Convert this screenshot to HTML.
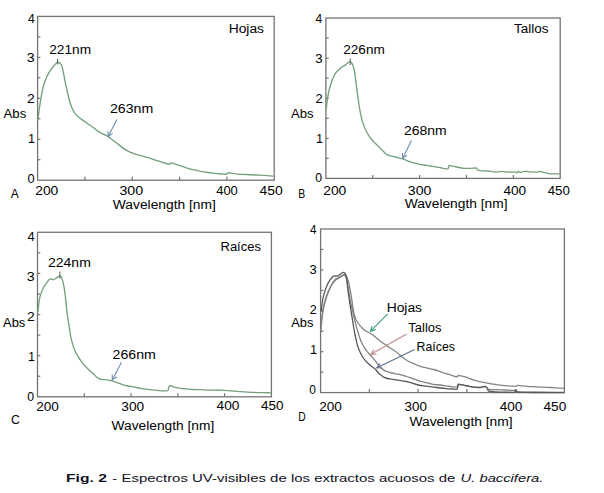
<!DOCTYPE html>
<html><head><meta charset="utf-8"><style>
html,body{margin:0;padding:0;background:#fff;}
body{width:604px;height:493px;overflow:hidden;}
svg{display:block;font-family:"Liberation Sans", sans-serif;}
</style></head><body>
<svg width="604" height="493" viewBox="0 0 604 493">
<rect x="0" y="0" width="604" height="493" fill="#fff"/>
<rect x="37.60" y="16.40" width="236.60" height="163.80" fill="none" stroke="#747474" stroke-width="1.3"/>
<line x1="37.60" y1="159.72" x2="40.40" y2="159.72" stroke="#747474" stroke-width="1.2"/>
<line x1="37.60" y1="139.25" x2="40.40" y2="139.25" stroke="#747474" stroke-width="1.2"/>
<line x1="37.60" y1="118.77" x2="40.40" y2="118.77" stroke="#747474" stroke-width="1.2"/>
<line x1="37.60" y1="98.30" x2="40.40" y2="98.30" stroke="#747474" stroke-width="1.2"/>
<line x1="37.60" y1="77.83" x2="40.40" y2="77.83" stroke="#747474" stroke-width="1.2"/>
<line x1="37.60" y1="57.35" x2="40.40" y2="57.35" stroke="#747474" stroke-width="1.2"/>
<line x1="37.60" y1="36.88" x2="40.40" y2="36.88" stroke="#747474" stroke-width="1.2"/>
<line x1="84.92" y1="180.20" x2="84.92" y2="176.70" stroke="#747474" stroke-width="1.2"/>
<line x1="132.24" y1="180.20" x2="132.24" y2="176.70" stroke="#747474" stroke-width="1.2"/>
<line x1="179.56" y1="180.20" x2="179.56" y2="176.70" stroke="#747474" stroke-width="1.2"/>
<line x1="226.88" y1="180.20" x2="226.88" y2="176.70" stroke="#747474" stroke-width="1.2"/>
<rect x="325.90" y="18.00" width="234.30" height="160.40" fill="none" stroke="#747474" stroke-width="1.3"/>
<line x1="325.90" y1="158.35" x2="328.70" y2="158.35" stroke="#747474" stroke-width="1.2"/>
<line x1="325.90" y1="138.30" x2="328.70" y2="138.30" stroke="#747474" stroke-width="1.2"/>
<line x1="325.90" y1="118.25" x2="328.70" y2="118.25" stroke="#747474" stroke-width="1.2"/>
<line x1="325.90" y1="98.20" x2="328.70" y2="98.20" stroke="#747474" stroke-width="1.2"/>
<line x1="325.90" y1="78.15" x2="328.70" y2="78.15" stroke="#747474" stroke-width="1.2"/>
<line x1="325.90" y1="58.10" x2="328.70" y2="58.10" stroke="#747474" stroke-width="1.2"/>
<line x1="325.90" y1="38.05" x2="328.70" y2="38.05" stroke="#747474" stroke-width="1.2"/>
<line x1="372.76" y1="178.40" x2="372.76" y2="174.90" stroke="#747474" stroke-width="1.2"/>
<line x1="419.62" y1="178.40" x2="419.62" y2="174.90" stroke="#747474" stroke-width="1.2"/>
<line x1="466.48" y1="178.40" x2="466.48" y2="174.90" stroke="#747474" stroke-width="1.2"/>
<line x1="513.34" y1="178.40" x2="513.34" y2="174.90" stroke="#747474" stroke-width="1.2"/>
<rect x="37.50" y="232.30" width="233.90" height="164.50" fill="none" stroke="#747474" stroke-width="1.3"/>
<line x1="37.50" y1="376.24" x2="40.30" y2="376.24" stroke="#747474" stroke-width="1.2"/>
<line x1="37.50" y1="355.68" x2="40.30" y2="355.68" stroke="#747474" stroke-width="1.2"/>
<line x1="37.50" y1="335.11" x2="40.30" y2="335.11" stroke="#747474" stroke-width="1.2"/>
<line x1="37.50" y1="314.55" x2="40.30" y2="314.55" stroke="#747474" stroke-width="1.2"/>
<line x1="37.50" y1="293.99" x2="40.30" y2="293.99" stroke="#747474" stroke-width="1.2"/>
<line x1="37.50" y1="273.43" x2="40.30" y2="273.43" stroke="#747474" stroke-width="1.2"/>
<line x1="37.50" y1="252.86" x2="40.30" y2="252.86" stroke="#747474" stroke-width="1.2"/>
<line x1="84.28" y1="396.80" x2="84.28" y2="393.30" stroke="#747474" stroke-width="1.2"/>
<line x1="131.06" y1="396.80" x2="131.06" y2="393.30" stroke="#747474" stroke-width="1.2"/>
<line x1="177.84" y1="396.80" x2="177.84" y2="393.30" stroke="#747474" stroke-width="1.2"/>
<line x1="224.62" y1="396.80" x2="224.62" y2="393.30" stroke="#747474" stroke-width="1.2"/>
<rect x="320.60" y="229.00" width="243.80" height="163.60" fill="none" stroke="#747474" stroke-width="1.3"/>
<line x1="320.60" y1="372.15" x2="323.40" y2="372.15" stroke="#747474" stroke-width="1.2"/>
<line x1="320.60" y1="351.70" x2="323.40" y2="351.70" stroke="#747474" stroke-width="1.2"/>
<line x1="320.60" y1="331.25" x2="323.40" y2="331.25" stroke="#747474" stroke-width="1.2"/>
<line x1="320.60" y1="310.80" x2="323.40" y2="310.80" stroke="#747474" stroke-width="1.2"/>
<line x1="320.60" y1="290.35" x2="323.40" y2="290.35" stroke="#747474" stroke-width="1.2"/>
<line x1="320.60" y1="269.90" x2="323.40" y2="269.90" stroke="#747474" stroke-width="1.2"/>
<line x1="320.60" y1="249.45" x2="323.40" y2="249.45" stroke="#747474" stroke-width="1.2"/>
<line x1="369.36" y1="392.60" x2="369.36" y2="389.10" stroke="#747474" stroke-width="1.2"/>
<line x1="418.12" y1="392.60" x2="418.12" y2="389.10" stroke="#747474" stroke-width="1.2"/>
<line x1="466.88" y1="392.60" x2="466.88" y2="389.10" stroke="#747474" stroke-width="1.2"/>
<line x1="515.64" y1="392.60" x2="515.64" y2="389.10" stroke="#747474" stroke-width="1.2"/>
<path d="M37.90,118.50 C38.03,117.83 38.17,117.28 38.30,116.50 C38.53,115.13 38.77,113.00 39.00,111.30 C39.33,108.88 39.67,106.46 40.00,104.20 C40.37,101.72 40.73,99.19 41.10,97.10 C41.60,94.24 42.10,91.65 42.60,89.50 C43.23,86.78 43.87,84.40 44.50,82.50 C45.20,80.40 45.90,78.73 46.60,77.20 C47.40,75.45 48.20,73.94 49.00,72.60 C49.83,71.21 50.67,70.02 51.50,68.90 C52.33,67.78 53.17,66.79 54.00,65.80 C54.67,65.01 55.33,64.13 56.00,63.50 C56.53,63.00 57.07,62.20 57.60,62.20 C58.33,62.20 59.07,62.51 59.80,62.90 C60.40,63.22 61.00,64.17 61.60,65.40 C62.00,66.22 62.40,67.94 62.80,69.60 C63.20,71.26 63.60,73.67 64.00,75.70 C64.40,77.73 64.80,79.80 65.20,81.80 C65.63,83.97 66.07,86.21 66.50,88.20 C67.07,90.81 67.63,93.18 68.20,95.50 C68.67,97.41 69.13,99.40 69.60,101.00 C70.20,103.05 70.80,104.86 71.40,106.40 C72.17,108.37 72.93,110.21 73.70,111.50 C74.60,113.01 75.50,114.15 76.40,115.10 C77.63,116.41 78.87,117.35 80.10,118.30 C81.63,119.49 83.17,120.42 84.70,121.50 C86.20,122.55 87.70,123.65 89.20,124.70 C90.73,125.78 92.27,126.76 93.80,127.90 C95.27,128.99 96.73,130.41 98.20,131.40 C99.27,132.12 100.33,132.78 101.40,133.30 C102.60,133.89 103.80,134.22 105.00,134.80 C106.07,135.31 107.13,135.92 108.20,136.60 C109.57,137.48 110.93,138.65 112.30,139.70 C113.83,140.88 115.37,142.09 116.90,143.30 C118.40,144.49 119.90,145.79 121.40,146.90 C122.60,147.79 123.80,148.64 125.00,149.40 C126.63,150.43 128.27,151.50 129.90,152.20 C131.57,152.91 133.23,153.37 134.90,153.90 C136.57,154.43 138.23,154.89 139.90,155.40 C141.53,155.89 143.17,156.46 144.80,156.90 C146.47,157.35 148.13,157.62 149.80,158.10 C151.47,158.58 153.13,159.35 154.80,159.90 C156.43,160.44 158.07,160.89 159.70,161.40 C161.37,161.92 163.03,162.52 164.70,163.00 C166.37,163.48 168.03,164.30 169.70,164.30 C170.00,164.30 170.30,162.80 170.60,162.80 C171.93,162.80 173.27,163.42 174.60,163.80 C176.40,164.31 178.20,164.97 180.00,165.60 C181.00,165.95 182.00,166.35 183.00,166.70 C184.63,167.27 186.27,167.83 187.90,168.30 C189.57,168.78 191.23,169.22 192.90,169.60 C194.57,169.98 196.23,170.25 197.90,170.60 C199.53,170.95 201.17,171.39 202.80,171.70 C204.47,172.01 206.13,172.27 207.80,172.50 C209.47,172.73 211.13,172.92 212.80,173.10 C214.43,173.28 216.07,173.44 217.70,173.60 C219.37,173.77 221.03,174.03 222.70,174.10 C224.03,174.15 225.37,174.20 226.70,174.20 C227.23,174.20 227.77,172.60 228.30,172.60 C229.83,172.60 231.37,173.15 232.90,173.40 C234.40,173.65 235.90,173.99 237.40,174.10 C240.37,174.32 243.33,174.35 246.30,174.50 C249.30,174.65 252.30,174.85 255.30,175.00 C258.27,175.15 261.23,175.23 264.20,175.40 C267.27,175.57 270.33,175.87 273.40,176.10" fill="none" stroke="#74a07d" stroke-width="1.35" stroke-linejoin="round"/>
<path d="M326.20,109.70 C326.47,107.23 326.73,104.37 327.00,102.30 C327.43,98.93 327.87,96.00 328.30,93.80 C328.90,90.76 329.50,88.60 330.10,86.50 C330.90,83.70 331.70,81.13 332.50,79.20 C333.53,76.71 334.57,74.50 335.60,73.10 C336.60,71.75 337.60,71.00 338.60,70.00 C339.63,68.97 340.67,67.67 341.70,67.00 C342.50,66.48 343.30,66.28 344.10,65.80 C344.93,65.30 345.77,64.59 346.60,63.90 C347.20,63.41 347.80,62.66 348.40,62.30 C348.90,62.00 349.40,61.60 349.90,61.60 C350.40,61.60 350.90,62.04 351.40,62.50 C351.80,62.86 352.20,63.68 352.60,64.60 C353.20,65.98 353.80,68.12 354.40,71.00 C354.83,73.08 355.27,76.91 355.70,80.10 C356.17,83.54 356.63,87.47 357.10,91.00 C357.60,94.78 358.10,98.67 358.60,102.00 C359.20,105.99 359.80,109.91 360.40,112.90 C361.13,116.55 361.87,119.78 362.60,122.10 C363.83,126.01 365.07,128.77 366.30,131.20 C367.80,134.15 369.30,136.56 370.80,138.50 C371.87,139.88 372.93,140.90 374.00,142.00 C375.33,143.38 376.67,144.57 378.00,145.90 C379.30,147.20 380.60,148.58 381.90,149.90 C382.90,150.91 383.90,152.01 384.90,152.90 C385.73,153.64 386.57,154.53 387.40,154.90 C388.90,155.57 390.40,155.79 391.90,156.20 C393.87,156.73 395.83,157.21 397.80,157.70 C399.47,158.11 401.13,158.40 402.80,158.90 C404.80,159.50 406.80,160.63 408.80,161.30 C411.10,162.08 413.40,162.73 415.70,163.30 C418.37,163.96 421.03,164.52 423.70,165.00 C425.80,165.38 427.90,165.67 430.00,166.00 C431.93,166.30 433.87,166.57 435.80,166.90 C437.73,167.23 439.67,167.69 441.60,168.00 C443.73,168.35 445.87,168.90 448.00,168.90 C448.37,168.90 448.73,165.40 449.10,165.40 C450.47,165.40 451.83,165.92 453.20,166.20 C455.13,166.60 457.07,167.17 459.00,167.50 C460.93,167.83 462.87,168.30 464.80,168.30 C466.73,168.30 468.67,168.30 470.60,168.30 C472.50,168.30 474.40,168.00 476.30,168.00 C476.90,168.00 477.50,170.27 478.10,170.40 C479.83,170.76 481.57,170.80 483.30,170.90 C485.63,171.04 487.97,171.03 490.30,171.20 C491.83,171.31 493.37,172.10 494.90,172.10 C496.07,172.10 497.23,172.00 498.40,171.90 C499.53,171.80 500.67,171.30 501.80,171.30 C502.90,171.30 504.00,171.84 505.10,171.90 C507.37,172.03 509.63,172.10 511.90,172.10 C513.03,172.10 514.17,172.10 515.30,172.10 C515.87,172.10 516.43,172.60 517.00,172.60 C517.53,172.60 518.07,171.30 518.60,171.30 C519.37,171.30 520.13,172.60 520.90,172.60 C521.67,172.60 522.43,171.30 523.20,171.30 C524.30,171.30 525.40,171.42 526.50,171.50 C528.00,171.61 529.50,171.83 531.00,171.90 C533.27,172.00 535.53,172.10 537.80,172.10 C538.53,172.10 539.27,171.30 540.00,171.30 C541.50,171.30 543.00,172.27 544.50,172.60 C546.77,173.10 549.03,173.70 551.30,173.80 C554.07,173.92 556.83,173.93 559.60,174.00" fill="none" stroke="#74a07d" stroke-width="1.35" stroke-linejoin="round"/>
<path d="M37.80,312.50 C38.03,310.50 38.27,308.36 38.50,306.50 C38.87,303.58 39.23,300.12 39.60,298.40 C40.10,296.06 40.60,294.85 41.10,293.40 C41.77,291.46 42.43,289.59 43.10,288.30 C43.77,287.01 44.43,286.19 45.10,285.20 C45.80,284.16 46.50,283.12 47.20,282.20 C48.03,281.11 48.87,279.39 49.70,279.20 C50.20,279.09 50.70,279.00 51.20,279.00 C51.90,279.00 52.60,279.70 53.30,279.70 C53.97,279.70 54.63,278.98 55.30,278.60 C56.13,278.12 56.97,277.64 57.80,277.10 C58.47,276.67 59.13,275.70 59.80,275.70 C60.33,275.70 60.87,276.37 61.40,277.10 C61.80,277.65 62.20,279.12 62.60,280.50 C63.03,282.00 63.47,284.00 63.90,286.30 C64.27,288.24 64.63,290.57 65.00,293.40 C65.30,295.72 65.60,299.11 65.90,301.90 C66.30,305.62 66.70,309.77 67.10,312.90 C67.73,317.85 68.37,321.56 69.00,325.60 C69.70,330.07 70.40,335.32 71.10,338.40 C72.20,343.25 73.30,346.66 74.40,349.40 C75.63,352.47 76.87,354.65 78.10,356.70 C79.60,359.19 81.10,361.24 82.60,363.10 C83.90,364.71 85.20,366.04 86.50,367.40 C87.33,368.27 88.17,369.10 89.00,369.90 C90.63,371.47 92.27,372.92 93.90,374.40 C95.40,375.75 96.90,377.76 98.40,378.40 C99.57,378.89 100.73,379.22 101.90,379.40 C103.53,379.65 105.17,379.68 106.80,379.90 C108.47,380.12 110.13,380.51 111.80,380.90 C113.47,381.29 115.13,381.75 116.80,382.30 C118.43,382.84 120.07,383.75 121.70,384.30 C123.70,384.97 125.70,385.58 127.70,386.00 C130.33,386.55 132.97,386.79 135.60,387.30 C137.07,387.58 138.53,388.05 140.00,388.30 C141.93,388.64 143.87,388.85 145.80,389.10 C147.73,389.35 149.67,389.58 151.60,389.80 C153.53,390.02 155.47,390.22 157.40,390.40 C159.33,390.58 161.27,390.90 163.20,390.90 C164.77,390.90 166.33,390.87 167.90,390.70 C168.27,390.66 168.63,387.09 169.00,386.60 C169.37,386.11 169.73,385.70 170.10,385.70 C171.67,385.70 173.23,386.82 174.80,387.20 C176.73,387.66 178.67,388.04 180.60,388.30 C182.50,388.56 184.40,388.70 186.30,388.90 C188.23,389.10 190.17,389.46 192.10,389.50 C194.83,389.56 197.57,389.55 200.30,389.60 C203.53,389.66 206.77,390.10 210.00,390.10 C212.20,390.10 214.40,390.00 216.60,390.00 C220.47,390.00 224.33,390.44 228.20,390.70 C232.07,390.96 235.93,391.34 239.80,391.60 C243.67,391.86 247.53,392.13 251.40,392.30 C255.23,392.47 259.07,392.63 262.90,392.70 C265.50,392.75 268.10,392.77 270.70,392.80" fill="none" stroke="#74a07d" stroke-width="1.35" stroke-linejoin="round"/>
<line x1="57.60" y1="58.80" x2="57.60" y2="64.50" stroke="#5f6f62" stroke-width="1.1"/>
<line x1="350.30" y1="58.50" x2="350.30" y2="65.00" stroke="#5f6f62" stroke-width="1.1"/>
<line x1="59.90" y1="271.40" x2="59.90" y2="278.80" stroke="#5f6f62" stroke-width="1.1"/>
<path d="M321.00,331.00 C321.27,327.27 321.53,322.39 321.80,319.80 C322.30,314.94 322.80,311.80 323.30,309.20 C324.07,305.21 324.83,302.64 325.60,300.00 C326.20,297.93 326.80,296.17 327.40,294.50 C328.07,292.64 328.73,290.92 329.40,289.40 C330.20,287.58 331.00,285.95 331.80,284.50 C332.60,283.05 333.40,281.55 334.20,280.60 C334.87,279.81 335.53,278.97 336.20,278.70 C336.83,278.44 337.47,278.44 338.10,278.20 C338.60,278.01 339.10,277.54 339.60,277.20 C340.27,276.75 340.93,276.20 341.60,275.80 C342.23,275.42 342.87,275.07 343.50,274.80 C343.87,274.64 344.23,274.40 344.60,274.40 C344.93,274.40 345.27,274.59 345.60,274.80 C346.07,275.10 346.53,276.44 347.00,277.50 C347.40,278.41 347.80,279.46 348.20,280.80 C348.53,281.91 348.87,283.48 349.20,285.00 C349.50,286.37 349.80,287.91 350.10,289.50 C350.47,291.44 350.83,293.46 351.20,295.70 C351.57,297.94 351.93,300.59 352.30,303.00 C352.63,305.19 352.97,307.61 353.30,309.50 C353.70,311.77 354.10,314.12 354.50,315.50 C355.20,317.92 355.90,319.48 356.60,320.80 C357.40,322.31 358.20,323.38 359.00,324.40 C360.10,325.80 361.20,326.94 362.30,328.00 C363.53,329.19 364.77,330.41 366.00,331.20 C367.53,332.18 369.07,332.61 370.60,333.50 C371.90,334.26 373.20,335.19 374.50,336.20 C375.93,337.31 377.37,338.86 378.80,340.00 C381.10,341.83 383.40,343.31 385.70,344.90 C387.63,346.23 389.57,347.51 391.50,348.80 C393.00,349.80 394.50,350.68 396.00,351.80 C397.50,352.92 399.00,354.39 400.50,355.60 C402.53,357.24 404.57,359.07 406.60,360.30 C408.53,361.47 410.47,362.32 412.40,363.20 C414.33,364.08 416.27,364.91 418.20,365.60 C420.13,366.29 422.07,366.90 424.00,367.40 C425.93,367.90 427.87,368.30 429.80,368.70 C431.20,368.99 432.60,369.16 434.00,369.50 C436.03,369.99 438.07,370.90 440.10,371.60 C442.13,372.30 444.17,373.03 446.20,373.70 C448.23,374.37 450.27,375.03 452.30,375.60 C454.00,376.08 455.70,376.90 457.40,376.90 C457.63,376.90 457.87,375.30 458.10,375.30 C460.23,375.30 462.37,376.13 464.50,376.70 C467.97,377.62 471.43,379.43 474.90,380.40 C478.20,381.33 481.50,382.05 484.80,382.70 C488.10,383.35 491.40,383.93 494.70,384.40 C498.03,384.87 501.37,385.29 504.70,385.60 C506.80,385.80 508.90,385.99 511.00,386.10 C512.67,386.19 514.33,386.30 516.00,386.30 C516.40,386.30 516.80,385.30 517.20,385.30 C517.80,385.30 518.40,385.53 519.00,385.60 C521.73,385.93 524.47,386.12 527.20,386.30 C530.40,386.51 533.60,386.63 536.80,386.80 C540.00,386.97 543.20,387.13 546.40,387.30 C549.60,387.47 552.80,387.62 556.00,387.80 C558.67,387.95 561.33,388.13 564.00,388.30" fill="none" stroke="#7f8781" stroke-width="1.3" stroke-linejoin="round"/>
<path d="M321.30,323.00 C321.70,319.67 322.10,315.72 322.50,313.00 C323.00,309.60 323.50,306.69 324.00,304.50 C324.67,301.58 325.33,299.50 326.00,297.50 C326.83,295.00 327.67,292.88 328.50,291.00 C329.33,289.12 330.17,287.42 331.00,286.00 C331.83,284.58 332.67,283.29 333.50,282.30 C334.33,281.31 335.17,280.40 336.00,279.80 C336.83,279.20 337.67,278.91 338.50,278.40 C339.33,277.89 340.17,277.21 341.00,276.70 C341.83,276.19 342.67,275.30 343.50,275.30 C344.10,275.30 344.70,275.37 345.30,275.50 C345.73,275.60 346.17,277.48 346.60,279.00 C347.00,280.41 347.40,282.78 347.80,285.00 C348.20,287.22 348.60,290.00 349.00,292.50 C349.40,295.00 349.80,297.79 350.20,300.00 C350.53,301.85 350.87,303.54 351.20,305.00 C351.50,306.31 351.80,307.19 352.10,308.50 C352.50,310.25 352.90,312.78 353.30,314.60 C353.83,317.02 354.37,319.00 354.90,321.10 C355.47,323.33 356.03,325.60 356.60,327.60 C357.27,329.95 357.93,331.93 358.60,334.10 C359.13,335.83 359.67,337.91 360.20,339.30 C360.77,340.78 361.33,341.84 361.90,343.00 C362.63,344.50 363.37,346.01 364.10,347.20 C365.20,348.99 366.30,350.45 367.40,351.80 C368.37,352.99 369.33,353.90 370.30,355.00 C371.03,355.84 371.77,356.74 372.50,357.60 C373.63,358.94 374.77,360.23 375.90,361.60 C376.87,362.77 377.83,364.05 378.80,365.20 C379.80,366.39 380.80,367.75 381.80,368.60 C383.10,369.70 384.40,370.64 385.70,371.20 C387.30,371.89 388.90,372.31 390.50,372.70 C392.33,373.15 394.17,373.45 396.00,373.80 C397.43,374.08 398.87,374.27 400.30,374.60 C402.40,375.08 404.50,375.82 406.60,376.50 C408.40,377.09 410.20,377.76 412.00,378.40 C414.07,379.13 416.13,379.96 418.20,380.60 C420.13,381.20 422.07,381.72 424.00,382.20 C425.93,382.68 427.87,383.08 429.80,383.50 C431.20,383.81 432.60,384.21 434.00,384.40 C436.03,384.68 438.07,384.76 440.10,385.00 C442.13,385.24 444.17,385.60 446.20,385.90 C448.23,386.20 450.27,386.62 452.30,386.80 C453.90,386.94 455.50,387.10 457.10,387.10 C457.30,387.10 457.50,386.08 457.70,385.60 C457.90,385.12 458.10,384.20 458.30,384.20 C460.20,384.20 462.10,384.91 464.00,385.30 C464.93,385.49 465.87,385.72 466.80,385.90 C469.87,386.48 472.93,387.40 476.00,387.40 C477.67,387.40 479.33,387.36 481.00,387.30 C482.33,387.25 483.67,386.50 485.00,386.50 C485.60,386.50 486.20,387.14 486.80,387.60 C487.40,388.06 488.00,389.48 488.60,389.50 C490.73,389.58 492.87,389.55 495.00,389.60 C498.33,389.67 501.67,389.86 505.00,390.00 C508.00,390.13 511.00,390.40 514.00,390.40 C514.60,390.40 515.20,389.80 515.80,389.80 C516.13,389.80 516.47,391.54 516.80,391.60 C519.53,392.11 522.27,392.18 525.00,392.20 C538.00,392.28 551.00,392.27 564.00,392.30" fill="none" stroke="#85817e" stroke-width="1.3" stroke-linejoin="round"/>
<path d="M321.20,311.50 C321.67,307.67 322.13,302.52 322.60,300.00 C323.10,297.30 323.60,295.80 324.10,294.00 C324.57,292.32 325.03,290.76 325.50,289.40 C326.13,287.56 326.77,285.84 327.40,284.50 C328.23,282.74 329.07,281.29 329.90,280.10 C330.70,278.96 331.50,277.93 332.30,277.20 C332.93,276.63 333.57,275.80 334.20,275.80 C334.70,275.80 335.20,275.94 335.70,276.00 C336.27,276.07 336.83,276.20 337.40,276.20 C337.97,276.20 338.53,275.40 339.10,275.00 C339.77,274.53 340.43,274.01 341.10,273.60 C341.83,273.15 342.57,272.40 343.30,272.40 C343.87,272.40 344.43,272.78 345.00,273.30 C345.37,273.63 345.73,274.65 346.10,276.00 C346.40,277.11 346.70,280.06 347.00,282.30 C347.40,285.29 347.80,288.96 348.20,292.00 C348.50,294.28 348.80,296.49 349.10,298.50 C349.37,300.28 349.63,301.80 349.90,303.50 C350.30,306.05 350.70,308.74 351.10,311.30 C351.53,314.07 351.97,316.80 352.40,319.50 C352.83,322.20 353.27,325.01 353.70,327.50 C354.13,329.99 354.57,332.36 355.00,334.50 C355.40,336.48 355.80,338.26 356.20,340.00 C356.67,342.03 357.13,344.28 357.60,345.80 C358.43,348.52 359.27,350.52 360.10,352.30 C361.17,354.57 362.23,356.48 363.30,358.00 C364.67,359.95 366.03,361.45 367.40,362.80 C368.73,364.11 370.07,365.14 371.40,366.20 C372.57,367.12 373.73,367.75 374.90,368.80 C375.90,369.70 376.90,371.14 377.90,372.20 C378.87,373.23 379.83,374.31 380.80,375.10 C381.77,375.89 382.73,376.64 383.70,377.10 C385.00,377.72 386.30,378.22 387.60,378.50 C388.90,378.78 390.20,378.90 391.50,379.10 C393.00,379.33 394.50,379.56 396.00,379.80 C399.53,380.36 403.07,380.76 406.60,381.50 C410.47,382.31 414.33,384.23 418.20,385.00 C420.13,385.38 422.07,385.64 424.00,385.90 C425.93,386.16 427.87,386.37 429.80,386.60 C431.20,386.77 432.60,386.92 434.00,387.10 C436.03,387.37 438.07,387.76 440.10,388.00 C442.13,388.24 444.17,388.44 446.20,388.60 C448.23,388.76 450.27,388.87 452.30,389.00 C453.90,389.10 455.50,389.30 457.10,389.30 C457.30,389.30 457.50,387.83 457.70,387.00 C457.90,386.17 458.10,384.30 458.30,384.30 C461.13,384.30 463.97,385.40 466.80,385.90 C469.87,386.44 472.93,387.28 476.00,387.40 C477.33,387.45 478.67,387.50 480.00,387.50 C481.60,387.50 483.20,386.40 484.80,386.40 C485.47,386.40 486.13,386.86 486.80,387.40 C487.40,387.89 488.00,391.06 488.60,391.20 C490.63,391.66 492.67,391.64 494.70,391.80 C496.70,391.96 498.70,392.17 500.70,392.20 C505.30,392.27 509.90,392.30 514.50,392.30 C514.97,392.30 515.43,389.80 515.90,389.80 C516.27,389.80 516.63,392.18 517.00,392.20 C523.67,392.48 530.33,392.46 537.00,392.50 C546.00,392.56 555.00,392.57 564.00,392.60" fill="none" stroke="#58595c" stroke-width="1.3" stroke-linejoin="round"/>
<line x1="116.90" y1="119.60" x2="108.20" y2="136.50" stroke="#6f8db0" stroke-width="1.10"/><line x1="108.20" y1="136.50" x2="112.31" y2="133.65" stroke="#6f8db0" stroke-width="1.10" stroke-linecap="round"/><line x1="108.20" y1="136.50" x2="108.13" y2="131.50" stroke="#6f8db0" stroke-width="1.10" stroke-linecap="round"/>
<line x1="411.50" y1="140.50" x2="402.60" y2="158.40" stroke="#6f8db0" stroke-width="1.10"/><line x1="402.60" y1="158.40" x2="406.67" y2="155.49" stroke="#6f8db0" stroke-width="1.10" stroke-linecap="round"/><line x1="402.60" y1="158.40" x2="402.46" y2="153.40" stroke="#6f8db0" stroke-width="1.10" stroke-linecap="round"/>
<line x1="121.50" y1="362.20" x2="112.30" y2="379.90" stroke="#6f8db0" stroke-width="1.10"/><line x1="112.30" y1="379.90" x2="116.42" y2="377.07" stroke="#6f8db0" stroke-width="1.10" stroke-linecap="round"/><line x1="112.30" y1="379.90" x2="112.25" y2="374.90" stroke="#6f8db0" stroke-width="1.10" stroke-linecap="round"/>
<line x1="387.70" y1="313.80" x2="370.60" y2="331.10" stroke="#3fa07a" stroke-width="1.10"/><line x1="370.60" y1="331.10" x2="375.37" y2="329.61" stroke="#3fa07a" stroke-width="1.10" stroke-linecap="round"/><line x1="370.60" y1="331.10" x2="372.03" y2="326.31" stroke="#3fa07a" stroke-width="1.10" stroke-linecap="round"/>
<line x1="406.60" y1="334.10" x2="371.00" y2="354.30" stroke="#b88f8c" stroke-width="1.10"/><line x1="371.00" y1="354.30" x2="376.00" y2="354.16" stroke="#b88f8c" stroke-width="1.10" stroke-linecap="round"/><line x1="371.00" y1="354.30" x2="373.68" y2="350.08" stroke="#b88f8c" stroke-width="1.10" stroke-linecap="round"/>
<line x1="414.60" y1="349.60" x2="376.90" y2="367.80" stroke="#5b6f8c" stroke-width="1.10"/><line x1="376.90" y1="367.80" x2="381.90" y2="367.99" stroke="#5b6f8c" stroke-width="1.10" stroke-linecap="round"/><line x1="376.90" y1="367.80" x2="379.86" y2="363.77" stroke="#5b6f8c" stroke-width="1.10" stroke-linecap="round"/>
<text x="27.94" y="22.90" textLength="6.74" lengthAdjust="spacingAndGlyphs" font-size="12" font-weight="normal" font-style="normal" fill="#000">4</text>
<text x="26.84" y="62.30" textLength="7.91" lengthAdjust="spacingAndGlyphs" font-size="12" font-weight="normal" font-style="normal" fill="#000">3</text>
<text x="27.06" y="102.60" textLength="7.79" lengthAdjust="spacingAndGlyphs" font-size="12" font-weight="normal" font-style="normal" fill="#000">2</text>
<text x="31.70" y="142.80" text-anchor="middle" font-size="12" fill="#000">1</text>
<rect x="29.00" y="141.80" width="4.80" height="1.0" fill="#000"/>
<text x="27.41" y="182.50" textLength="7.16" lengthAdjust="spacingAndGlyphs" font-size="12" font-weight="normal" font-style="normal" fill="#000">0</text>
<text x="3.60" y="117.60" textLength="22.68" lengthAdjust="spacingAndGlyphs" font-size="12" font-weight="normal" font-style="normal" fill="#000">Abs</text>
<text x="49.23" y="53.70" textLength="41.87" lengthAdjust="spacingAndGlyphs" font-size="12" font-weight="normal" font-style="normal" fill="#000">221nm</text>
<text x="109.99" y="112.90" textLength="43.31" lengthAdjust="spacingAndGlyphs" font-size="12" font-weight="normal" font-style="normal" fill="#000">263nm</text>
<text x="228.66" y="32.70" textLength="35.35" lengthAdjust="spacingAndGlyphs" font-size="12" font-weight="normal" font-style="normal" fill="#000">Hojas</text>
<text x="35.22" y="194.70" textLength="23.08" lengthAdjust="spacingAndGlyphs" font-size="12" font-weight="normal" font-style="normal" fill="#000">200</text>
<text x="119.44" y="194.70" textLength="23.81" lengthAdjust="spacingAndGlyphs" font-size="12" font-weight="normal" font-style="normal" fill="#000">300</text>
<text x="216.18" y="194.70" textLength="21.66" lengthAdjust="spacingAndGlyphs" font-size="12" font-weight="normal" font-style="normal" fill="#000">400</text>
<text x="259.53" y="194.70" textLength="23.21" lengthAdjust="spacingAndGlyphs" font-size="12" font-weight="normal" font-style="normal" fill="#000">450</text>
<text x="112.84" y="208.60" textLength="103.04" lengthAdjust="spacingAndGlyphs" font-size="12" font-weight="normal" font-style="normal" fill="#000">Wavelength [nm]</text>
<text x="10.85" y="197.70" textLength="8.05" lengthAdjust="spacingAndGlyphs" font-size="12" font-weight="normal" font-style="normal" fill="#000">A</text>
<text x="315.64" y="22.80" textLength="6.73" lengthAdjust="spacingAndGlyphs" font-size="12" font-weight="normal" font-style="normal" fill="#000">4</text>
<text x="315.38" y="62.90" textLength="7.34" lengthAdjust="spacingAndGlyphs" font-size="12" font-weight="normal" font-style="normal" fill="#000">3</text>
<text x="315.63" y="102.80" textLength="7.20" lengthAdjust="spacingAndGlyphs" font-size="12" font-weight="normal" font-style="normal" fill="#000">2</text>
<text x="319.50" y="142.80" text-anchor="middle" font-size="12" fill="#000">1</text>
<rect x="316.80" y="141.80" width="4.80" height="1.0" fill="#000"/>
<text x="315.39" y="182.40" textLength="6.82" lengthAdjust="spacingAndGlyphs" font-size="12" font-weight="normal" font-style="normal" fill="#000">0</text>
<text x="291.08" y="117.70" textLength="22.60" lengthAdjust="spacingAndGlyphs" font-size="12" font-weight="normal" font-style="normal" fill="#000">Abs</text>
<text x="343.23" y="53.70" textLength="41.55" lengthAdjust="spacingAndGlyphs" font-size="12" font-weight="normal" font-style="normal" fill="#000">226nm</text>
<text x="404.03" y="134.80" textLength="42.57" lengthAdjust="spacingAndGlyphs" font-size="12" font-weight="normal" font-style="normal" fill="#000">268nm</text>
<text x="513.96" y="32.75" textLength="34.49" lengthAdjust="spacingAndGlyphs" font-size="12" font-weight="normal" font-style="normal" fill="#000">Tallos</text>
<text x="323.22" y="194.70" textLength="23.08" lengthAdjust="spacingAndGlyphs" font-size="12" font-weight="normal" font-style="normal" fill="#000">200</text>
<text x="407.81" y="194.70" textLength="23.53" lengthAdjust="spacingAndGlyphs" font-size="12" font-weight="normal" font-style="normal" fill="#000">300</text>
<text x="503.43" y="194.70" textLength="22.80" lengthAdjust="spacingAndGlyphs" font-size="12" font-weight="normal" font-style="normal" fill="#000">400</text>
<text x="547.69" y="194.70" textLength="22.18" lengthAdjust="spacingAndGlyphs" font-size="12" font-weight="normal" font-style="normal" fill="#000">450</text>
<text x="404.68" y="208.30" textLength="102.92" lengthAdjust="spacingAndGlyphs" font-size="12" font-weight="normal" font-style="normal" fill="#000">Wavelength [nm]</text>
<text x="298.35" y="197.50" textLength="6.96" lengthAdjust="spacingAndGlyphs" font-size="12" font-weight="normal" font-style="normal" fill="#000">B</text>
<text x="27.60" y="240.70" textLength="7.19" lengthAdjust="spacingAndGlyphs" font-size="12" font-weight="normal" font-style="normal" fill="#000">4</text>
<text x="26.84" y="280.60" textLength="7.91" lengthAdjust="spacingAndGlyphs" font-size="12" font-weight="normal" font-style="normal" fill="#000">3</text>
<text x="27.06" y="320.70" textLength="7.79" lengthAdjust="spacingAndGlyphs" font-size="12" font-weight="normal" font-style="normal" fill="#000">2</text>
<text x="31.55" y="361.10" text-anchor="middle" font-size="12" fill="#000">1</text>
<rect x="28.80" y="360.10" width="4.90" height="1.0" fill="#000"/>
<text x="27.39" y="400.50" textLength="6.82" lengthAdjust="spacingAndGlyphs" font-size="12" font-weight="normal" font-style="normal" fill="#000">0</text>
<text x="3.05" y="327.10" textLength="22.20" lengthAdjust="spacingAndGlyphs" font-size="12" font-weight="normal" font-style="normal" fill="#000">Abs</text>
<text x="48.03" y="266.70" textLength="42.82" lengthAdjust="spacingAndGlyphs" font-size="12" font-weight="normal" font-style="normal" fill="#000">224nm</text>
<text x="112.64" y="359.00" textLength="43.29" lengthAdjust="spacingAndGlyphs" font-size="12" font-weight="normal" font-style="normal" fill="#000">266nm</text>
<text x="220.52" y="251.10" textLength="40.40" lengthAdjust="spacingAndGlyphs" font-size="12" font-weight="normal" font-style="normal" fill="#000">Raíces</text>
<text x="36.23" y="410.70" textLength="22.71" lengthAdjust="spacingAndGlyphs" font-size="12" font-weight="normal" font-style="normal" fill="#000">200</text>
<text x="121.39" y="410.50" textLength="22.84" lengthAdjust="spacingAndGlyphs" font-size="12" font-weight="normal" font-style="normal" fill="#000">300</text>
<text x="216.54" y="410.40" textLength="22.93" lengthAdjust="spacingAndGlyphs" font-size="12" font-weight="normal" font-style="normal" fill="#000">400</text>
<text x="260.96" y="410.40" textLength="22.45" lengthAdjust="spacingAndGlyphs" font-size="12" font-weight="normal" font-style="normal" fill="#000">450</text>
<text x="111.62" y="429.60" textLength="102.62" lengthAdjust="spacingAndGlyphs" font-size="12" font-weight="normal" font-style="normal" fill="#000">Wavelength [nm]</text>
<text x="11.07" y="423.70" textLength="8.86" lengthAdjust="spacingAndGlyphs" font-size="12" font-weight="normal" font-style="normal" fill="#000">C</text>
<text x="309.98" y="233.70" textLength="6.47" lengthAdjust="spacingAndGlyphs" font-size="12" font-weight="normal" font-style="normal" fill="#000">4</text>
<text x="309.48" y="273.70" textLength="7.20" lengthAdjust="spacingAndGlyphs" font-size="12" font-weight="normal" font-style="normal" fill="#000">3</text>
<text x="309.73" y="314.00" textLength="7.00" lengthAdjust="spacingAndGlyphs" font-size="12" font-weight="normal" font-style="normal" fill="#000">2</text>
<text x="313.60" y="353.90" text-anchor="middle" font-size="12" fill="#000">1</text>
<rect x="310.70" y="352.90" width="5.20" height="1.0" fill="#000"/>
<text x="309.30" y="393.80" textLength="6.62" lengthAdjust="spacingAndGlyphs" font-size="12" font-weight="normal" font-style="normal" fill="#000">0</text>
<text x="291.19" y="327.00" textLength="22.16" lengthAdjust="spacingAndGlyphs" font-size="12" font-weight="normal" font-style="normal" fill="#000">Abs</text>
<text x="386.66" y="312.30" textLength="35.35" lengthAdjust="spacingAndGlyphs" font-size="12" font-weight="normal" font-style="normal" fill="#000">Hojas</text>
<text x="408.33" y="332.10" textLength="33.16" lengthAdjust="spacingAndGlyphs" font-size="12" font-weight="normal" font-style="normal" fill="#000">Tallos</text>
<text x="416.62" y="351.20" textLength="38.36" lengthAdjust="spacingAndGlyphs" font-size="12" font-weight="normal" font-style="normal" fill="#000">Raíces</text>
<text x="319.23" y="410.90" textLength="22.71" lengthAdjust="spacingAndGlyphs" font-size="12" font-weight="normal" font-style="normal" fill="#000">200</text>
<text x="404.50" y="410.60" textLength="22.48" lengthAdjust="spacingAndGlyphs" font-size="12" font-weight="normal" font-style="normal" fill="#000">300</text>
<text x="499.68" y="410.60" textLength="22.63" lengthAdjust="spacingAndGlyphs" font-size="12" font-weight="normal" font-style="normal" fill="#000">400</text>
<text x="543.53" y="410.60" textLength="22.79" lengthAdjust="spacingAndGlyphs" font-size="12" font-weight="normal" font-style="normal" fill="#000">450</text>
<text x="409.47" y="425.60" textLength="103.16" lengthAdjust="spacingAndGlyphs" font-size="12" font-weight="normal" font-style="normal" fill="#000">Wavelength [nm]</text>
<text x="298.37" y="420.80" textLength="7.47" lengthAdjust="spacingAndGlyphs" font-size="12" font-weight="normal" font-style="normal" fill="#000">D</text>
<text x="66.08" y="481.50" textLength="40.75" lengthAdjust="spacingAndGlyphs" font-size="11" font-weight="bold" font-style="normal" fill="#10101e">Fig. 2</text>
<text x="112.34" y="481.50" textLength="343.05" lengthAdjust="spacingAndGlyphs" font-size="11" font-weight="normal" font-style="normal" fill="#10101e">- Espectros UV-visibles de los extractos acuosos de</text>
<text x="460.58" y="481.50" textLength="82.82" lengthAdjust="spacingAndGlyphs" font-size="11" font-weight="normal" font-style="italic" fill="#10101e">U. baccifera.</text>
</svg>
</body></html>
